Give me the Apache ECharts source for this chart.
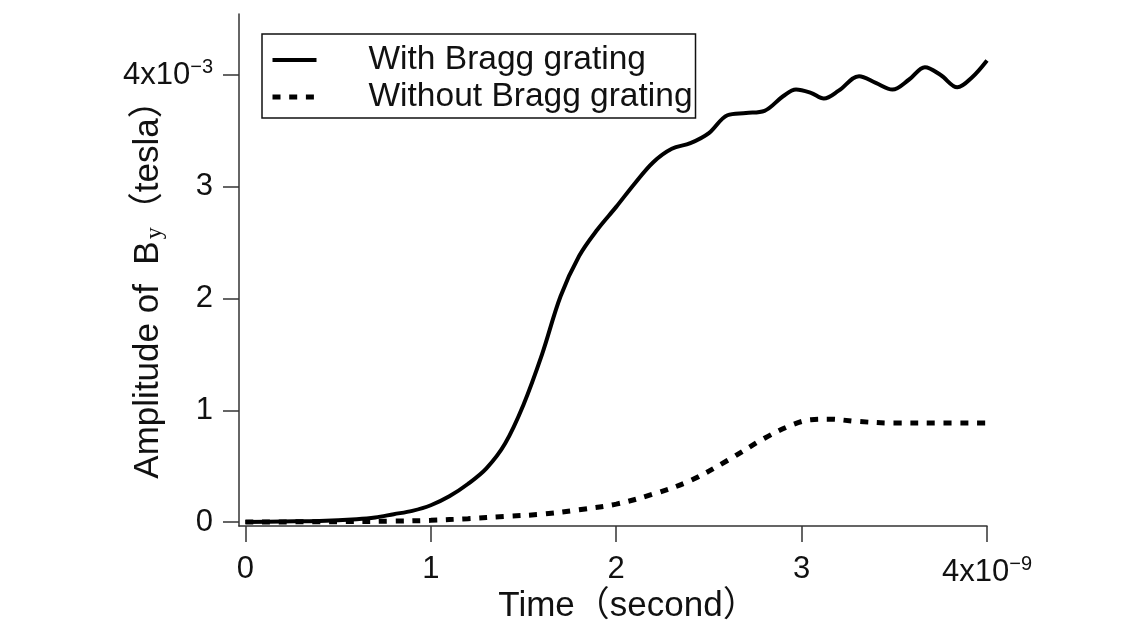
<!DOCTYPE html>
<html>
<head>
<meta charset="utf-8">
<script src="https://cdn.jsdelivr.net/npm/echarts@6/dist/echarts.min.js"></script>
<style>html,body{margin:0;padding:0;background:#fff}#c{width:1145px;height:629px}</style>
</head>
<body>
<div id="c"></div>
<script>
// time in units of 1e-9 s, amplitude in units of 1e-3 T
const timeWith = [0, 0.2, 0.4, 0.6, 0.7, 0.8, 0.9, 1.0, 1.1, 1.2, 1.3, 1.4, 1.5, 1.6, 1.7, 1.8, 1.9, 2.0, 2.1, 2.2, 2.3, 2.4, 2.5, 2.6, 2.7, 2.8, 2.9, 2.97, 3.05, 3.12, 3.2, 3.31, 3.4, 3.49, 3.58, 3.665, 3.75, 3.84, 3.92, 4.0];
const withBragg = [0.0, 0.005, 0.01, 0.025, 0.04, 0.07, 0.10, 0.15, 0.23, 0.34, 0.48, 0.70, 1.05, 1.50, 2.02, 2.38, 2.62, 2.82, 3.03, 3.22, 3.34, 3.39, 3.48, 3.64, 3.66, 3.68, 3.81, 3.87, 3.84, 3.79, 3.86, 3.99, 3.93, 3.87, 3.96, 4.07, 4.00, 3.89, 3.98, 4.13];
const timeWithout = [0, 0.5, 0.8, 1.0, 1.2, 1.4, 1.6, 1.8, 2.0, 2.2, 2.4, 2.6, 2.8, 2.95, 3.05, 3.15, 3.3, 3.5, 3.75, 4.0];
const withoutBragg = [0.0, 0.003, 0.008, 0.015, 0.03, 0.05, 0.07, 0.11, 0.16, 0.25, 0.37, 0.55, 0.75, 0.87, 0.915, 0.92, 0.90, 0.885, 0.885, 0.885];
const xTicks = [0, 1, 2, 3, 4];
const yTicks = [0, 1, 2, 3, 4];
const seriesNames = ['With Bragg grating', 'Without Bragg grating'];
const xName = 'Time（second）';

const FONT = '"Liberation Sans", "Noto Sans CJK JP", Arial, sans-serif';
const pairs = (xs, ys) => xs.map((x, i) => [x, ys[i]]);
const sup = { fontSize: 20, fontFamily: FONT, color: '#111', padding: [0, 0, 16, 0] };
const main = { fontSize: 31, fontFamily: FONT, color: '#111' };
const solidStyle = { color: '#000', width: 4, type: 'solid' };
const dotStyle = { color: '#000', width: 5, type: [8, 8.7] };

const chart = echarts.init(document.getElementById('c'));
chart.setOption({
  backgroundColor: '#fff',
  animation: false,
  grid: { left: 239, right: 158, top: 14, bottom: 103 },
  legend: {
    left: 262, top: 34,
    orient: 'vertical', align: 'left',
    borderColor: '#111', borderWidth: 1.5,
    padding: [8, 3, 3, 8],
    itemWidth: 44, itemHeight: 36, itemGap: 1,
    itemStyle: { opacity: 0 },
    textStyle: { fontSize: 33.5, fontFamily: FONT, color: '#111', padding: [0, 0, 0, 47], lineHeight: 36 },
    data: [
      { name: seriesNames[0], lineStyle: solidStyle },
      { name: seriesNames[1], lineStyle: dotStyle }
    ]
  },
  xAxis: {
    type: 'value', min: -0.0345, max: 4,
    name: xName, nameLocation: 'middle', nameGap: 63, nameMoveOverlap: false,
    nameTextStyle: { fontSize: 35, fontFamily: FONT, color: '#111', padding: [0, 0, 0, 30] },
    axisLine: { show: true, onZero: false, lineStyle: { color: '#333', width: 1.5 } },
    axisTick: { show: true, inside: false, length: 16, customValues: xTicks, lineStyle: { color: '#333', width: 1.5 } },
    axisLabel: {
      margin: 28, customValues: xTicks,
      formatter: v => v === 4 ? '{n|4x10}{s|−9}' : '{n|' + v + '}',
      rich: { n: main, s: sup }
    },
    splitLine: { show: false }
  },
  yAxis: {
    type: 'value', min: -0.0358, max: 4.546,
    name: '{a|Amplitude of  B}{s|y}{a|（tesla）}', nameLocation: 'middle', nameGap: 72, nameRotate: 90,
    nameMoveOverlap: false,
    nameTextStyle: {
      padding: [0, 22, 0, 0],
      rich: {
        a: { fontSize: 35, fontFamily: FONT, color: '#111' },
        s: { fontSize: 24, fontFamily: '"Liberation Serif", serif', color: '#111', padding: [13, 0, 0, 2] }
      }
    },
    axisLine: { show: true, onZero: false, lineStyle: { color: '#333', width: 1.5 } },
    axisTick: { show: true, inside: false, length: 16, customValues: yTicks, lineStyle: { color: '#333', width: 1.5 } },
    axisLabel: {
      margin: 26, customValues: yTicks,
      formatter: v => v === 4 ? '{n|4x10}{s|−3}' : '{n|' + v + '}',
      rich: { n: main, s: sup }
    },
    splitLine: { show: false }
  },
  series: [
    {
      name: seriesNames[0], type: 'line', symbol: 'none', smooth: 0.35,
      data: pairs(timeWith, withBragg),
      lineStyle: solidStyle,
      itemStyle: { color: '#000' }
    },
    {
      name: seriesNames[1], type: 'line', symbol: 'none', smooth: 0.35,
      data: pairs(timeWithout, withoutBragg),
      lineStyle: dotStyle,
      itemStyle: { color: '#000' }
    }
  ]
});
</script>
</body>
</html>
